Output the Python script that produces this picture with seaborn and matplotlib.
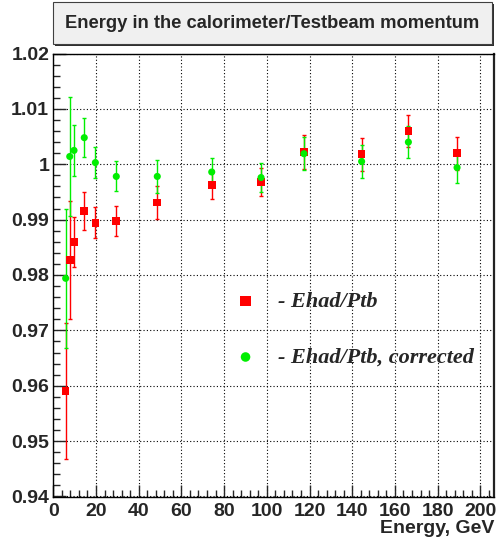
import numpy as np
import matplotlib
matplotlib.use("Agg")
import matplotlib.pyplot as plt
import seaborn as sns
from matplotlib.patches import Rectangle
from matplotlib.ticker import MultipleLocator, FuncFormatter

# ---------------------------
# DATA
# ---------------------------
energy = [5.8, 7.7, 9.7, 14.5, 19.7, 29.5, 48.7, 74.2, 97.3, 117.4, 144.4, 166.3, 189.1]
ratio_raw = [0.9590, 0.9827, 0.9860, 0.9916, 0.9894, 0.9898, 0.9931,
             0.9963, 0.9968, 1.0022, 1.0018, 1.0060, 1.0020]
err_raw = [0.0123, 0.0106, 0.0045, 0.0034, 0.0028, 0.0027, 0.0030,
           0.0026, 0.0026, 0.0030, 0.0030, 0.0029, 0.0030]
ratio_corr = [0.9794, 1.0014, 1.0025, 1.0048, 1.0003, 0.9978, 0.9978,
              0.9986, 0.9976, 1.0019, 1.0005, 1.0040, 0.9994]
err_corr = [0.0126, 0.0108, 0.0046, 0.0035, 0.0028, 0.0027, 0.0030,
            0.0026, 0.0026, 0.0030, 0.0030, 0.0029, 0.0028]

title = "Energy in the calorimeter/Testbeam momentum"
label_raw = "- Ehad/Ptb"
label_corr = "- Ehad/Ptb, corrected"
xlabel = "Energy, GeV"

RED = "#ff0000"
GREEN = "#00ee00"

sns.set_style("white")
plt.rcParams["font.family"] = ["Liberation Sans", "DejaVu Sans"]
plt.rcParams["font.weight"] = "bold"

W, H = 498, 544
fig = plt.figure(figsize=(W / 100, H / 100), dpi=100)
ax = fig.add_axes([53.3 / W, 1 - 496.5 / H, 440.7 / W, 443 / H])

# ---------------------------
# ERROR BARS + MARKERS
# ---------------------------
ax.errorbar(energy, ratio_raw, yerr=err_raw, fmt="none", ecolor=RED,
            elinewidth=1.0, capsize=1.5, capthick=1.0, zorder=3)
ax.errorbar(energy, ratio_corr, yerr=err_corr, fmt="none", ecolor=GREEN,
            elinewidth=1.0, capsize=1.5, capthick=1.0, zorder=4)
sns.scatterplot(x=energy, y=ratio_raw, marker="s", color=RED, s=30,
                edgecolor="none", label=label_raw, ax=ax, zorder=5)
sns.scatterplot(x=energy, y=ratio_corr, marker="o", color=GREEN, s=26,
                edgecolor="none", label=label_corr, ax=ax, zorder=6)

# ---------------------------
# AXES
# ---------------------------
ax.set_xlim(0, 206.4)
ax.set_ylim(0.94, 1.02)
ax.xaxis.set_major_locator(MultipleLocator(20))
ax.xaxis.set_minor_locator(MultipleLocator(4))
ax.yaxis.set_major_locator(MultipleLocator(0.01))
ax.yaxis.set_minor_locator(MultipleLocator(0.002))
ax.yaxis.set_major_formatter(FuncFormatter(lambda v, p: f"{round(v, 3):g}"))

ax.tick_params(axis="both", which="major", direction="in", length=9, width=1,
               labelsize=14, pad=3)
ax.tick_params(axis="both", which="minor", direction="in", length=5, width=1)
ax.tick_params(axis="x", which="major", pad=5)
ax.tick_params(left=True, bottom=True, which="both")

ax.grid(True, which="major", color="black", linestyle=(0, (1, 2)), linewidth=0.8)
for side in ["left", "bottom", "top"]:
    ax.spines[side].set_color("black")
    ax.spines[side].set_linewidth(1.0)
ax.spines["right"].set_color("#222222")
ax.spines["right"].set_linewidth(1.6)

ax.set_xlabel(xlabel, loc="right", fontsize=14, fontweight="bold", labelpad=0)
ax.set_ylabel("")

leg = ax.legend(loc="center left", bbox_to_anchor=(0.411, 0.377), frameon=False,
                handlelength=1.0, handletextpad=0.94, labelspacing=1.6,
                borderpad=0, borderaxespad=0, markerscale=1.35,
                prop={"family": "Liberation Serif", "weight": "bold",
                      "style": "italic", "size": 16})

# ---------------------------
# TITLE BOX
# ---------------------------
bx0, bx1 = 53 / W, 492 / W
by0, by1 = 1 - 44 / H, 1 - 2 / H
fig.patches.append(Rectangle((bx0 + 2 / W, by0 - 2 / H), bx1 - bx0, by1 - by0,
                             transform=fig.transFigure, facecolor="#303030",
                             edgecolor="none", zorder=1))
fig.patches.append(Rectangle((bx0, by0), bx1 - bx0, by1 - by0,
                             transform=fig.transFigure, facecolor="#f0f0f0",
                             edgecolor="#404040", linewidth=0.8, zorder=2))
fig.text((bx0 + bx1) / 2, (by0 + by1) / 2, title, ha="center", va="center",
         fontsize=13.2, fontweight="bold", zorder=3)

fig.savefig("out.png", dpi=100)
